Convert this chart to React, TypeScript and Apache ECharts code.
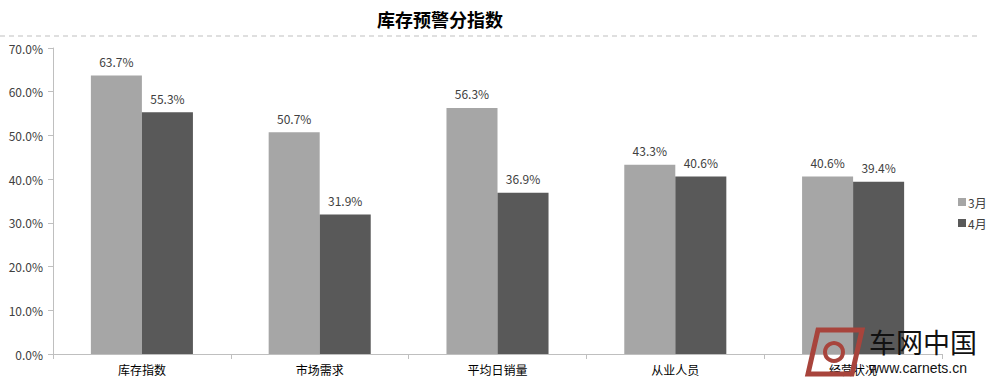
import React, { useEffect, useRef } from "react";
import * as echarts from "echarts";

const categories = ["库存指数", "市场需求", "平均日销量", "从业人员", "经营状况"];
const seriesNames = ["3月", "4月"];
const march = [63.7, 50.7, 56.3, 43.3, 40.6];
const april = [55.3, 31.9, 36.9, 40.6, 39.4];
const colors = ["#a6a6a6", "#595959"];

const FONT = "'Noto Sans CJK SC', 'Noto Sans', sans-serif";

export default function App() {
  const ref = useRef<HTMLDivElement>(null);
  useEffect(() => {
    if (!ref.current) return;
    const chart = echarts.init(ref.current, null, { renderer: "svg" });
    const labelFmt = (p: any) => p.value.toFixed(1) + "%";
    chart.setOption({
      animation: false,
      textStyle: { fontFamily: FONT },
      title: {
        text: "库存预警分指数",
        left: 435,
        top: 5,
        textAlign: "center",
        textStyle: { fontSize: 18, fontWeight: "bold", color: "#000", fontFamily: FONT },
      },
      legend: {
        orient: "vertical",
        left: 953,
        top: 191,
        itemWidth: 8,
        itemHeight: 8,
        itemGap: 9,
        icon: "rect",
        data: seriesNames,
        textStyle: { fontSize: 12, color: "#404040", fontFamily: FONT, padding: [0, 0, 0, -3] },
      },
      grid: { left: 53, right: 58, top: 48, bottom: 28, containLabel: false },
      xAxis: {
        type: "category",
        data: categories,
        axisLine: { lineStyle: { color: "#bfbfbf" } },
        axisTick: { show: true, lineStyle: { color: "#bfbfbf" }, length: 5 },
        axisLabel: { fontSize: 12, color: "#000", margin: 9 },
      },
      yAxis: {
        type: "value",
        min: 0,
        max: 70,
        interval: 10,
        axisLine: { show: true, lineStyle: { color: "#bfbfbf" } },
        axisTick: { show: true, inside: false, length: 5, lineStyle: { color: "#bfbfbf" } },
        splitLine: { show: false },
        axisLabel: {
          fontSize: 12,
          color: "#404040",
          margin: 10,
          formatter: (v: number) => v.toFixed(1) + "%",
        },
      },
      series: [
        {
          name: seriesNames[0],
          type: "bar",
          data: march,
          barGap: "0%",
          barCategoryGap: "42.6%",
          itemStyle: { color: colors[0] },
          label: { show: true, position: "top", distance: 8, fontSize: 12, color: "#404040", formatter: labelFmt },
        },
        {
          name: seriesNames[1],
          type: "bar",
          data: april,
          barGap: "0%",
          barCategoryGap: "42.6%",
          itemStyle: { color: colors[1] },
          label: { show: true, position: "top", distance: 8, fontSize: 12, color: "#404040", formatter: labelFmt },
        },
      ],
      graphic: [
        {
          type: "line",
          shape: { x1: 0, y1: 36, x2: 977, y2: 36 },
          style: { stroke: "#bfbfbf", lineWidth: 1, lineDash: [5, 4] },
        },
        {
          type: "polygon",
          shape: { points: [[818, 330], [862, 330], [852, 374], [808, 374]] },
          style: { fill: "none", stroke: "#a8443c", lineWidth: 5 },
          z: 100,
        },
        {
          type: "circle",
          shape: { cx: 834, cy: 352, r: 9 },
          style: { fill: "none", stroke: "#a8443c", lineWidth: 4 },
          z: 100,
        },
        {
          type: "text",
          x: 869,
          y: 328,
          style: { text: "车网中国", fontSize: 27, lineHeight: 27, fill: "#111", fontFamily: FONT, verticalAlign: "top", align: "left" },
          z: 100,
        },
        {
          type: "text",
          x: 869,
          y: 361,
          style: {
            text: "www.carnets.cn",
            fontSize: 14,
            lineHeight: 14,
            fill: "#111",
            fontFamily: "'Liberation Sans', sans-serif",
            verticalAlign: "top",
            align: "left",
          },
          z: 100,
        },
      ],
    });
    return () => chart.dispose();
  }, []);
  return <div ref={ref} style={{ width: 1000, height: 382, position: "absolute", left: 0, top: 0, background: "#fff" }} />;
}
